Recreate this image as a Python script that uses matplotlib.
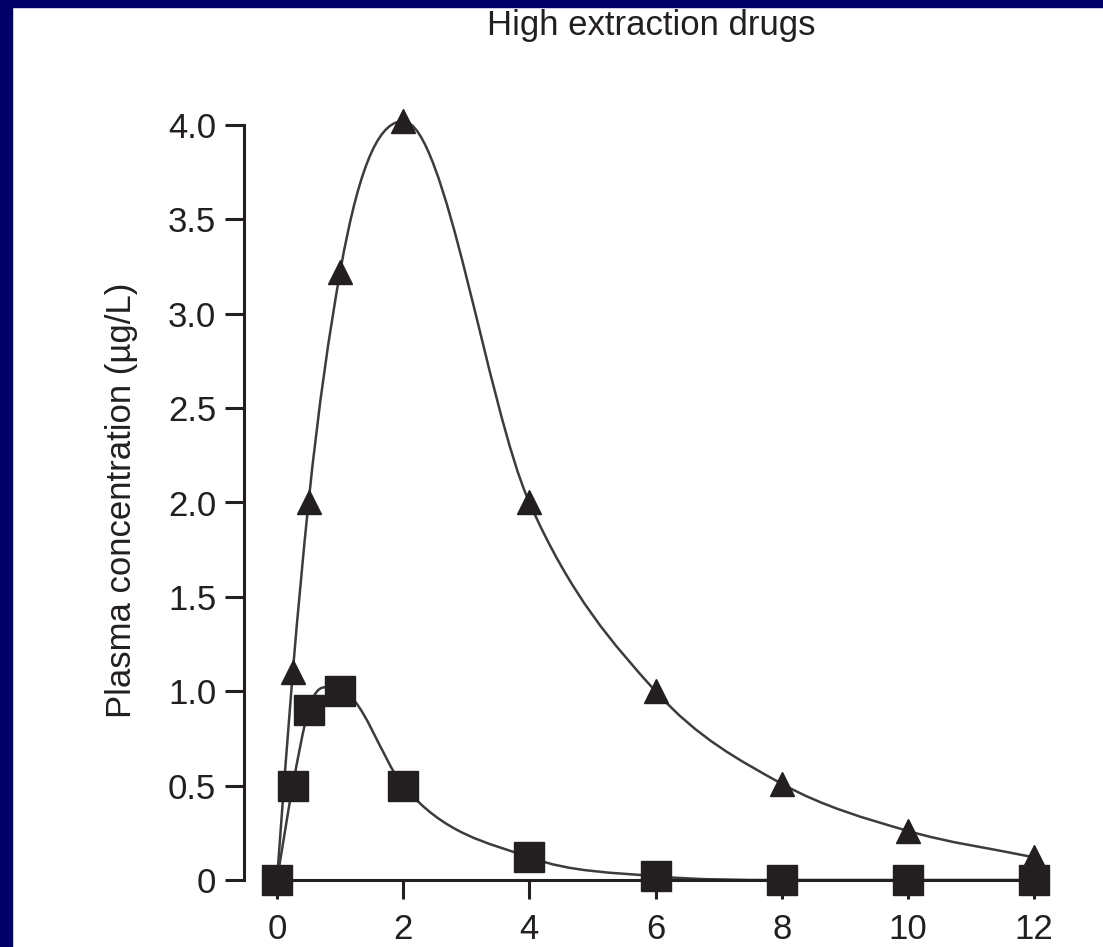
import numpy as np
import matplotlib
matplotlib.use("Agg")
import matplotlib.pyplot as plt
from matplotlib.path import Path
from matplotlib.patches import PathPatch, Rectangle

# data
time_h = [0, 0.25, 0.5, 1, 2, 4, 6, 8, 10, 12]
conc_triangle = [0, 1.1, 2.0, 3.22, 4.02, 2.0, 1.0, 0.51, 0.26, 0.12]
conc_square = [0, 0.5, 0.9, 1.0, 0.5, 0.12, 0.02, 0.0, 0.0, 0.0]

x_ticks = [0, 2, 4, 6, 8, 10, 12]
y_ticks = [0, 0.5, 1.0, 1.5, 2.0, 2.5, 3.0, 3.5, 4.0]
y_tick_labels = ["0", "0.5", "1.0", "1.5", "2.0", "2.5", "3.0", "3.5", "4.0"]

INK = "#231f20"
plt.rcParams["font.family"] = ["Liberation Sans", "DejaVu Sans"]


def smooth_path(x, y):
    # smooth curve through the points, drawn as bezier segments
    # (parabola tangents, flat at local peaks)
    x = np.asarray(x, float)
    y = np.asarray(y, float)
    h = np.diff(x)
    d = np.diff(y) / h
    m = np.zeros(len(x))
    m[0] = d[0]
    m[-1] = d[-1]
    for i in range(1, len(x) - 1):
        if d[i - 1] * d[i] <= 0:
            m[i] = 0
        else:
            m[i] = (h[i] * d[i - 1] + h[i - 1] * d[i]) / (h[i - 1] + h[i])
    verts = [(x[0], y[0])]
    codes = [Path.MOVETO]
    for i in range(len(x) - 1):
        verts.append((x[i] + h[i] / 3, y[i] + m[i] * h[i] / 3))
        verts.append((x[i + 1] - h[i] / 3, y[i + 1] - m[i + 1] * h[i] / 3))
        verts.append((x[i + 1], y[i + 1]))
        codes += [Path.CURVE4] * 3
    return Path(verts, codes)


fig = plt.figure(figsize=(11.03, 9.47), dpi=100)
ax = fig.add_axes([244 / 1103, 1 - 880 / 947, (1053 - 244) / 1103, (880 - 125) / 947])

# navy frame on top and left
fig.patches.append(Rectangle((0, 1 - 7 / 947), 1, 7 / 947, transform=fig.transFigure,
                             color="#000066", zorder=10))
fig.patches.append(Rectangle((0, 0), 12 / 1103, 1, transform=fig.transFigure,
                             color="#000066", zorder=10))

for conc in (conc_triangle, conc_square):
    ax.add_patch(PathPatch(smooth_path(time_h, conc), facecolor="none",
                           edgecolor="#3c3c3c", lw=1.8, clip_on=False, zorder=2))

ax.plot(time_h, conc_triangle, linestyle="none", marker="^", ms=17, color=INK,
        clip_on=False, zorder=3)
ax.plot(time_h, conc_square, linestyle="none", marker="s", ms=21, color=INK,
        clip_on=False, zorder=4)

ax.set_xlim(-0.523, 12.3)
ax.set_ylim(0, 4.0)
ax.set_xticks(x_ticks)
ax.set_xticklabels([str(t) for t in x_ticks])
ax.set_yticks(y_ticks)
ax.set_yticklabels(y_tick_labels)

for side in ("top", "right"):
    ax.spines[side].set_visible(False)
for side in ("left", "bottom"):
    ax.spines[side].set_linewidth(2.2)
    ax.spines[side].set_color(INK)
ax.spines["bottom"].set_bounds(0, 12)
ax.spines["left"].set_bounds(0, 4.0)

ax.tick_params(axis="both", length=13.5, width=2.2, color=INK, labelcolor=INK,
               labelsize=25)
ax.tick_params(axis="y", pad=6.5)
ax.tick_params(axis="x", pad=10)

fig.text(651 / 1103, 1 - 35 / 947, "High extraction drugs", ha="center",
         va="baseline", fontsize=25, color=INK)
fig.text(122 / 1103, 1 - 500 / 947, "Plasma concentration (µg/L)", rotation=90,
         ha="center", va="center", fontsize=25, color=INK)

fig.savefig("out.png", dpi=100)
